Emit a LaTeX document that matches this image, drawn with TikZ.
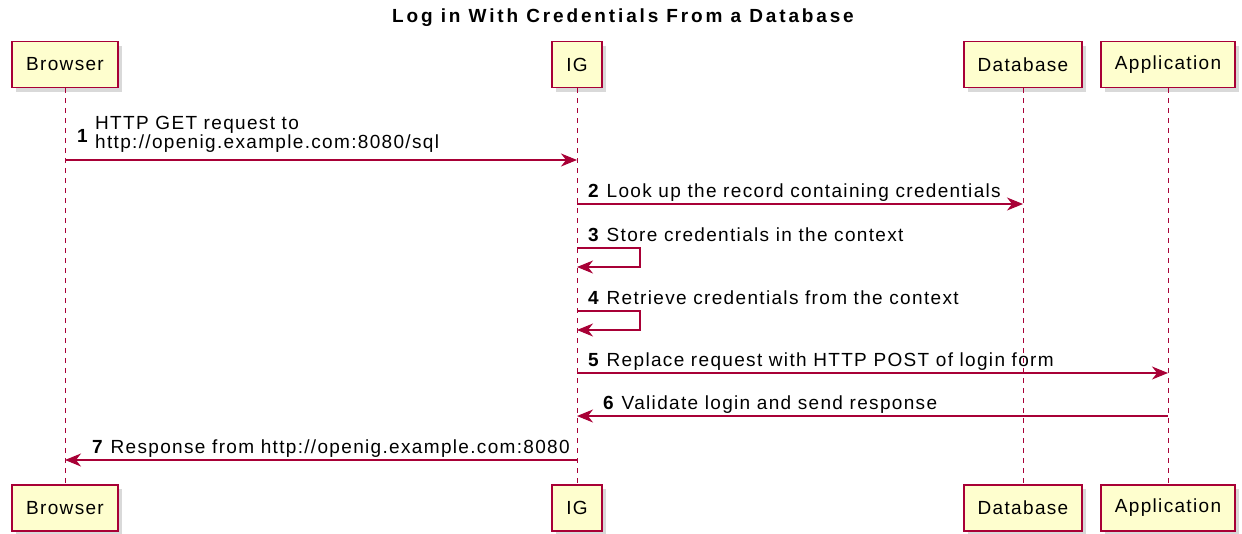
\documentclass[tikz,border=0pt]{standalone}
\usepackage{fontspec}
\setmainfont{Liberation Sans}
\newfontfamily\umlfont[LetterSpace=7]{Liberation Sans}
\newfontfamily\umltitlefont[LetterSpace=15]{Liberation Sans}
\usetikzlibrary{arrows.meta,shadows}

\definecolor{umlred}{HTML}{A80036}
\definecolor{umlfill}{HTML}{FEFECE}

\tikzset{
  actor/.style={draw=umlred, line width=1.7pt, fill=umlfill, minimum height=46pt,
    inner xsep=14pt, font=\umlfont\fontsize{19}{21}\selectfont,
    drop shadow={shadow xshift=4pt, shadow yshift=-4pt, opacity=0.3}},
  lifeline/.style={draw=umlred, line width=1pt, dash pattern=on 5pt off 5pt},
  msg/.style={draw=umlred, line width=1.2pt, -{Stealth[length=16pt, width=13pt, inset=5pt]}},
  msglabel/.style={inner sep=0pt, anchor=base west, font=\umlfont\fontsize{19}{21}\selectfont},
}

\begin{document}
\begin{tikzpicture}[x=1pt, y=-1pt]
    \useasboundingbox (0,0) rectangle (1242,533);

    % Le titre
    \node (title) [inner sep=0pt, font=\umltitlefont\fontsize{19}{21}\selectfont\bfseries] at (623,18) {Log in With Credentials From a Database};

    % Les participants en haut
    \node (browserTop) [actor] at (65,64.5) {Browser};
    \node (igTop) [actor] at (577,64.5) {IG};
    \node (dbTop) [actor] at (1023,64.5) {Database};
    \node (appTop) [actor] at (1168,64.5) {Application};

    % Les participants en bas
    \node (browserBot) [actor] at (65,508) {Browser};
    \node (igBot) [actor] at (577,508) {IG};
    \node (dbBot) [actor] at (1023,508) {Database};
    \node (appBot) [actor] at (1168,508) {Application};

    % Les lignes de vie
    \draw[lifeline] (browserTop) -- (browserBot);
    \draw[lifeline] (igTop) -- (igBot);
    \draw[lifeline] (dbTop) -- (dbBot);
    \draw[lifeline] (appTop) -- (appBot);

    % Les hauteurs des messages
    \coordinate (y1) at (0,160);
    \coordinate (y2) at (0,204);
    \coordinate (y3) at (0,248);
    \coordinate (y3b) at (0,267);
    \coordinate (y4) at (0,311);
    \coordinate (y4b) at (0,330);
    \coordinate (y5) at (0,373);
    \coordinate (y6) at (0,416);
    \coordinate (y7) at (0,460);

    % Les messages
    \draw[msg] (browserTop |- y1) -- (igTop |- y1);
    \draw[msg] (igTop |- y2) -- (dbTop |- y2);
    \draw[msg] (igTop |- y3) -- ++(63,0) -- ++(0,19) -- (igTop |- y3b);
    \draw[msg] (igTop |- y4) -- ++(63,0) -- ++(0,19) -- (igTop |- y4b);
    \draw[msg] (igTop |- y5) -- (appTop |- y5);
    \draw[msg] (appTop |- y6) -- (igTop |- y6);
    \draw[msg] (igTop |- y7) -- (browserTop |- y7);

    % Les textes des messages
    \node (n1) [msglabel] at (77,142) {\textbf{1}};
    \node (l1a) [msglabel] at (95,129) {HTTP GET request to};
    \node (l1b) [msglabel] at (95,148) {http://openig.example.com:8080/sql};
    \node (l2) [msglabel] at (588,197) {\textbf{2} Look up the record containing credentials};
    \node (l3) [msglabel] at (588,241) {\textbf{3} Store credentials in the context};
    \node (l4) [msglabel] at (588,304) {\textbf{4} Retrieve credentials from the context};
    \node (l5) [msglabel] at (588,366) {\textbf{5} Replace request with HTTP POST of login form};
    \node (l6) [msglabel] at (603,409) {\textbf{6} Validate login and send response};
    \node (l7) [msglabel] at (92,453) {\textbf{7} Response from http://openig.example.com:8080};

\end{tikzpicture}
\end{document}
